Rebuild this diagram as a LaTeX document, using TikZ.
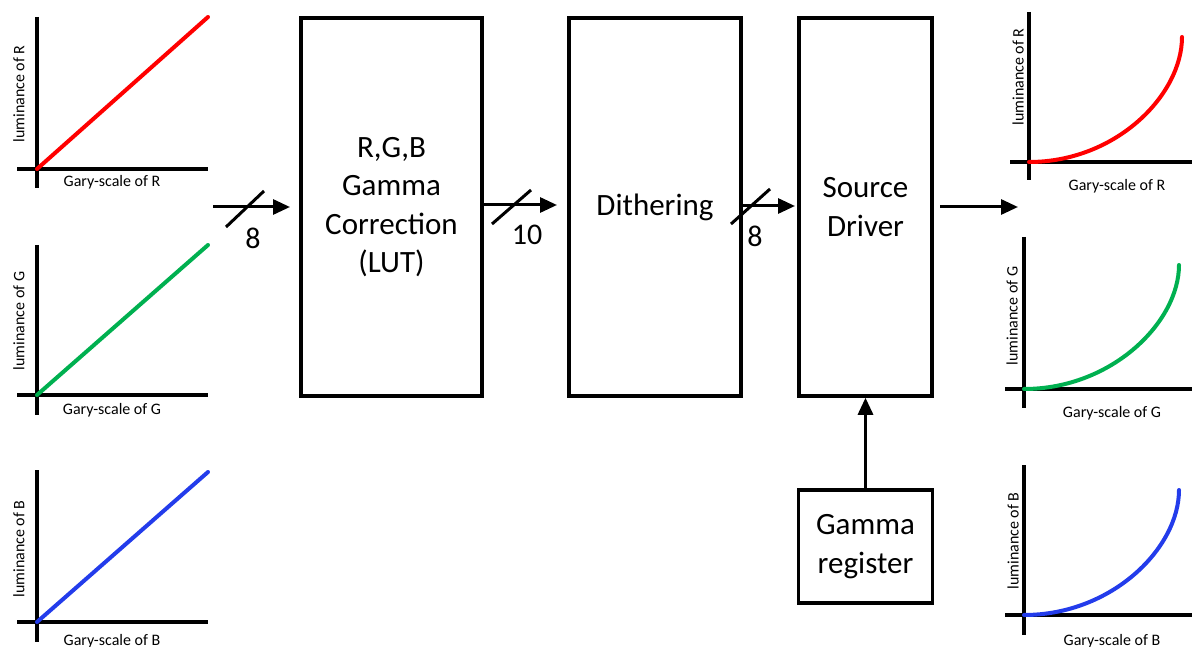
\documentclass[tikz,border=0pt]{standalone}
\usepackage{fontspec}
\setmainfont{Carlito}
\usetikzlibrary{arrows.meta}
\definecolor{cR}{RGB}{255,0,0}
\definecolor{cG}{RGB}{0,176,80}
\definecolor{cB}{RGB}{35,60,235}
\begin{document}
\begin{tikzpicture}[x=1pt,y=-1pt,
  box/.style={draw, line width=3.5pt, inner sep=0pt, align=center,
    font=\fontsize{31}{38.5}\selectfont},
  axis/.style={line width=3.5pt},
  curve/.style={line width=4pt, line cap=round},
  flow/.style={line width=3pt, -{Triangle[length=17pt,width=15pt]}},
  slash/.style={line width=3pt},
  lbl/.style={font=\fontsize{16}{18}\selectfont, inner sep=0pt},
  num/.style={font=\fontsize{30}{30}\selectfont, inner sep=0pt},
]
\useasboundingbox (0,0) rectangle (1192,647);

% ---------- left plots (linear) ----------
% R
\draw[axis] (37,17) -- (37,188);
\draw[axis] (17,169) -- (208,169);
\draw[curve, cR] (37,169) -- (208,17);
\node[lbl, rotate=90] (lR) at (19,94) {luminance of R};
\node[lbl] (gR) at (112,182) {Gary-scale of R};
% G
\draw[axis] (37,245) -- (37,415);
\draw[axis] (17,395) -- (208,395);
\draw[curve, cG] (37,395) -- (208,245);
\node[lbl, rotate=90] (lG) at (19,321) {luminance of G};
\node[lbl] (gG) at (112,410) {Gary-scale of G};
% B
\draw[axis] (37,470) -- (37,642);
\draw[axis] (17,622) -- (208,622);
\draw[curve, cB] (37,622) -- (208,472);
\node[lbl, rotate=90] (lB) at (19,549) {luminance of B};
\node[lbl] (gB) at (112,641) {Gary-scale of B};

% ---------- right plots (gamma curves) ----------
% R
\draw[axis] (1029,12) -- (1029,180);
\draw[axis] (1010,162) -- (1192,162);
\draw[curve, cR] (1029,162) .. controls (1116,162) and (1182,95) .. (1182,37);
\node[lbl, rotate=90] (rlR) at (1018,77) {luminance of R};
\node[lbl] (rgR) at (1117,186) {Gary-scale of R};
% G
\draw[axis] (1024,237) -- (1024,408);
\draw[axis] (1005,389) -- (1192,389);
\draw[curve, cG] (1024,389) .. controls (1112,389) and (1179,322) .. (1179,265);
\node[lbl, rotate=90] (rlG) at (1012,316) {luminance of G};
\node[lbl] (rgG) at (1112,413) {Gary-scale of G};
% B
\draw[axis] (1024,465) -- (1024,635);
\draw[axis] (1005,615) -- (1192,615);
\draw[curve, cB] (1024,615) .. controls (1112,615) and (1179,548) .. (1179,490);
\node[lbl, rotate=90] (rlB) at (1013,541) {luminance of B};
\node[lbl] (rgB) at (1112,641) {Gary-scale of B};

% ---------- blocks ----------
\node[box, minimum width=181pt, minimum height=378pt] (gc) at (391.5,207)
  {R,G,B\\Gamma\\Correction\\(LUT)};
\node[box, minimum width=172pt, minimum height=378pt] (dith) at (655,207) {Dithering};
\node[box, minimum width=133pt, minimum height=378pt] (sd) at (865.5,207) {Source\\Driver};
\node[box, minimum width=134pt, minimum height=113pt] (gr) at (865.5,546.5) {Gamma\\register};

% ---------- connectors ----------
\coordinate (in0) at (213,207);
\coordinate (in1) at (290,207);
\draw[flow] (in0) -- (in1);
\draw[slash] (226,227) -- (264,191);
\node[num] (n8a) at (253,238) {8};

\coordinate (d1) at (557,205);
\draw[flow] (gc.east |- d1) -- (d1);
\draw[slash] (492,224) -- (531,190);
\node[num] (n10) at (527,235) {10};

\coordinate (s1) at (795,206);
\draw[flow] (dith.east |- s1) -- (s1);
\draw[slash] (731,224) -- (770,189);
\node[num] (n8b) at (755,236) {8};

\coordinate (o0) at (940,207);
\coordinate (o1) at (1018,207);
\draw[flow] (o0) -- (o1);

\draw[flow] (gr.north) -- (sd.south);
\end{tikzpicture}
\end{document}
